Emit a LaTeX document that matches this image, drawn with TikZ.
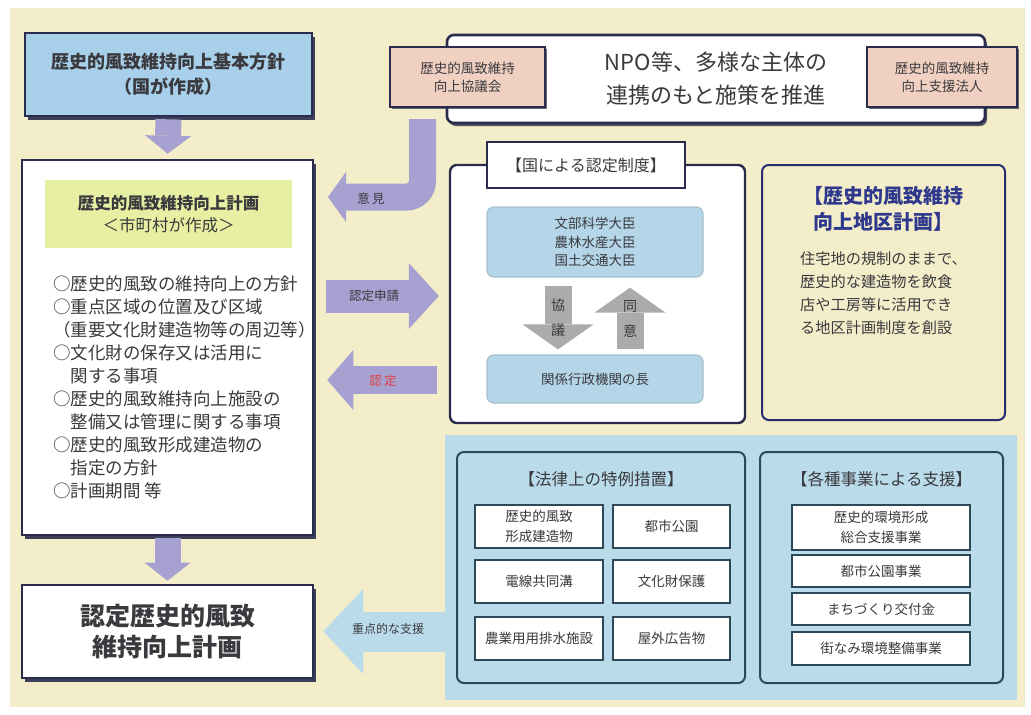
\documentclass[tikz,border=0pt]{standalone}
\usepackage{fontspec}
\setmainfont{Noto Sans CJK JP}
\usetikzlibrary{arrows.meta,shadows,positioning}
\definecolor{cream}{RGB}{243,237,202}
\definecolor{navy}{RGB}{42,44,78}
\definecolor{kihonblue}{RGB}{168,208,234}
\definecolor{bandblue}{RGB}{186,220,234}
\definecolor{daijinblue}{RGB}{180,214,232}
\definecolor{pinkfill}{RGB}{240,208,192}
\definecolor{leafgreen}{RGB}{231,240,162}
\definecolor{arrowpurple}{RGB}{166,161,208}
\definecolor{arrowgray}{RGB}{170,172,170}
\definecolor{tealline}{RGB}{45,72,88}
\definecolor{titleblue}{RGB}{46,56,140}
\definecolor{textgray}{RGB}{58,58,62}
\definecolor{ninteired}{RGB}{222,66,66}

\tikzset{
  shadowbox/.style={shape=rectangle,draw=navy,line width=2.6pt,fill=white,inner sep=0pt,
                    drop shadow={shadow xshift=3pt,shadow yshift=-4pt,fill=navy,opacity=0.9}},
  pinkbox/.style={shape=rectangle,draw=navy,line width=2pt,fill=pinkfill,inner sep=0pt,align=center,
                  font=\fontsize{13.5}{18}\selectfont,text=textgray,
                  drop shadow={shadow xshift=2pt,shadow yshift=-2pt,fill=navy,opacity=0.7}},
  roundbox/.style={shape=rectangle,rounded corners=2.4mm,line width=2pt,inner sep=0pt},
  cellbox/.style={shape=rectangle,draw=tealline,line width=1.4pt,fill=white,inner sep=0pt,align=center,
                  font=\fontsize{13.5}{21}\selectfont,text=textgray},
  fatarrow/.style={draw=arrowpurple,line width=#1},
  purplehead/.style={-{Triangle[width=46pt,length=18pt,line width=0pt]}},
  grayhead/.style={draw=arrowgray,line width=27pt,-{Triangle[width=71pt,length=25pt,line width=0pt]}},
  arrowlabel/.style={font=\fontsize{12.5}{16}\selectfont,text=textgray,inner sep=0pt}
}

\begin{document}
\begin{tikzpicture}[x=1pt,y=-1pt]
\useasboundingbox (0,0) rectangle (1031,715);
\fill[white] (0,0) rectangle (1031,715);
\fill[cream] (10,8) rectangle (1025,707);

% band behind the support boxes
\node (shienband)[shape=rectangle,fill=bandblue,inner sep=0pt,minimum width=572pt,minimum height=265pt,
                  anchor=north west] at (445,435) {};

% left column
\node (kihon)[shadowbox,fill=kihonblue,minimum width=287pt,minimum height=83pt,align=center,
              font=\bfseries\fontsize{18}{25}\selectfont,text=textgray]
  at (168.5,74.5) {歴史的風致維持向上基本方針\\（国が作成）};
\node (keikaku)[shadowbox,minimum width=291pt,minimum height=375pt] at (167.5,347.5) {};
\node (keikakuhead)[shape=rectangle,fill=leafgreen,minimum width=247pt,minimum height=68pt,inner sep=0pt,
                    align=center,font=\fontsize{16.5}{22}\selectfont,text=textgray]
  at (168.5,214) {\bfseries 歴史的風致維持向上計画\\＜市町村が作成＞};
\node (komoku)[anchor=north west,align=left,inner sep=0pt,font=\fontsize{17.5}{23}\selectfont,text=textgray]
  at (53,276) {○歴史的風致の維持向上の方針\\
               ○重点区域の位置及び区域\\
               （重要文化財建造物等の周辺等）\\
               ○文化財の保存又は活用に\\
               \hphantom{○}関する事項\\
               ○歴史的風致維持向上施設の\\
               \hphantom{○}整備又は管理に関する事項\\
               ○歴史的風致形成建造物の\\
               \hphantom{○}指定の方針\\
               ○計画期間 等};
\node (nintei)[shadowbox,minimum width=291pt,minimum height=93pt,align=center,
               font=\bfseries\fontsize{25}{31}\selectfont,text=textgray]
  at (167.5,631.5) {認定歴史的風致\\維持向上計画};

\draw[fatarrow=26pt,purplehead,shorten <=2pt,shorten >=5pt] (kihon.south) -- (keikaku.north);
\draw[fatarrow=26pt,purplehead,shorten <=2pt,shorten >=3pt] (keikaku.south) -- (nintei.north);

% top: NPO
\node (npo)[roundbox,draw=navy,line width=2.6pt,fill=white,minimum width=538pt,minimum height=88pt,
            align=center,font=\fontsize{22}{33}\selectfont,text=textgray,
            drop shadow={shadow xshift=2pt,shadow yshift=-3pt,fill=navy,opacity=0.8}]
  at (716,79) {NPO等、多様な主体の\\連携のもと施策を推進};
\node (kyogikai)[pinkbox,minimum width=155pt,minimum height=60pt] at (467.5,77) {歴史的風致維持\\向上協議会};
\node (shienhojin)[pinkbox,minimum width=150pt,minimum height=60pt] at (942,77) {歴史的風致維持\\向上支援法人};

% national approval system
\node (kuni)[roundbox,draw=navy,line width=2.4pt,fill=white,minimum width=295pt,minimum height=258pt]
  at (597.5,294) {};
\node (kunititle)[shape=rectangle,draw=navy,line width=2.2pt,fill=white,minimum width=198pt,minimum height=46pt,
                  inner sep=0pt,font=\fontsize{16}{20}\selectfont,text=textgray]
  at (586,165) {【国による認定制度】};
\node (daijin)[roundbox,draw=daijinblue!75!gray,line width=1.2pt,fill=daijinblue,minimum width=216pt,
               minimum height=70pt,align=center,font=\fontsize{13.5}{18.5}\selectfont,text=textgray]
  at (595,242) {文部科学大臣\\農林水産大臣\\国土交通大臣};
\node (kankei)[roundbox,draw=daijinblue!75!gray,line width=1.2pt,fill=daijinblue,minimum width=216pt,
               minimum height=48pt,font=\fontsize{13.5}{18}\selectfont,text=textgray]
  at (595,379) {関係行政機関の長};
\draw[grayhead] ([xshift=-37pt,yshift=-8pt]daijin.south) -- ([xshift=-37pt,yshift=5pt]kankei.north);
\draw[grayhead] ([xshift=35pt,yshift=5pt]kankei.north) -- ([xshift=35pt,yshift=-10pt]daijin.south);
\node (kyogi)[arrowlabel,align=center,font=\fontsize{14}{25}\selectfont] at (558,318) {協\\議};
\node (doi)[arrowlabel,align=center,font=\fontsize{14}{25}\selectfont] at (630,319) {同\\意};

% district plan
\node (chiku)[roundbox,draw=titleblue!80!black,minimum width=243pt,minimum height=255pt] at (883.5,292.5) {};
\node (chikutitle)[below=22pt of chiku.north,align=center,inner sep=0pt,
                   font=\bfseries\fontsize{20}{26}\selectfont,text=titleblue]
  {【歴史的風致維持\\向上地区計画】};
\node (chikubody)[below=20pt of chikutitle,align=left,inner sep=0pt,
                  font=\fontsize{15.2}{23}\selectfont,text=textgray]
  {住宅地の規制のままで、\\歴史的な建造物を飲食\\店や工房等に活用でき\\る地区計画制度を創設};

% arrows between the columns
\coordinate (ikentip) at (328,197);
\coordinate (shinsei) at (380,296);
\coordinate (ninteirow) at (380,380);
\draw[fatarrow=27pt,rounded corners=16pt,-{Triangle[width=50pt,length=18pt,line width=0pt]}]
  ([xshift=-45pt,yshift=-11pt]kyogikai.south) |- (ikentip);
\node (iken)[arrowlabel] at (371,199) {意\,見};
\draw[fatarrow=33pt,-{Triangle[width=66pt,length=30pt,line width=0pt]}]
  ([xshift=12pt]keikaku.east |- shinsei) -- ([xshift=-10pt]kuni.west |- shinsei);
\node (shinseilabel)[arrowlabel] at (374,296) {認定申請};
\draw[fatarrow=28pt,-{Triangle[width=60pt,length=26pt,line width=0pt]}]
  ([xshift=-12pt]kuni.west |- ninteirow) -- ([xshift=13pt]keikaku.east |- ninteirow);
\node (ninteilabel)[arrowlabel,text=ninteired] at (383,381) {認\,定};

% support measures
\node (houritsu)[roundbox,draw=tealline,fill=bandblue,minimum width=288pt,minimum height=231pt] at (601,567.5) {};
\node (houritsutitle)[below=20pt of houritsu.north,inner sep=0pt,font=\fontsize{16.5}{20}\selectfont,text=textgray]
  {【法律上の特例措置】};
\node (kenzobutsu)[cellbox,minimum width=128pt,minimum height=43pt,font=\fontsize{13.5}{20}\selectfont]
  at (539,526.5) {歴史的風致\\形成建造物};
\node (toshikoen)[cellbox,minimum width=117pt,minimum height=43pt] at (671.5,526.5) {都市公園};
\node (densen)[cellbox,minimum width=128pt,minimum height=43pt] at (539,581.5) {電線共同溝};
\node (bunkazai)[cellbox,minimum width=117pt,minimum height=43pt] at (671.5,581.5) {文化財保護};
\node (haisui)[cellbox,minimum width=128pt,minimum height=43pt] at (539,638.5) {農業用用排水施設};
\node (kokoku)[cellbox,minimum width=117pt,minimum height=43pt] at (671.5,638.5) {屋外広告物};

\node (kakushu)[roundbox,draw=tealline,fill=bandblue,minimum width=243pt,minimum height=231pt] at (881.5,567.5) {};
\node (kakushutitle)[below=20pt of kakushu.north,inner sep=0pt,font=\fontsize{16.5}{20}\selectfont,text=textgray]
  {【各種事業による支援】};
\node (sogoshien)[cellbox,minimum width=178pt,minimum height=45pt,font=\fontsize{13.5}{20}\selectfont]
  at (881,527.5) {歴史的環境形成\\総合支援事業};
\node (koenjigyo)[cellbox,minimum width=178pt,minimum height=32pt] at (881,571) {都市公園事業};
\node (kofukin)[cellbox,minimum width=178pt,minimum height=32pt] at (881,609) {まちづくり交付金};
\node (machinami)[cellbox,minimum width=178pt,minimum height=33pt] at (881,648.5) {街なみ環境整備事業};

% priority support
\draw[draw=bandblue,line width=40pt,-{Triangle[width=85pt,length=40pt,line width=0pt]}]
  (shienband.west |- nintei.east) -- ([xshift=9pt]nintei.east);
\node (juten)[arrowlabel,font=\fontsize{12}{16}\selectfont] at (388,629) {重点的な支援};
\end{tikzpicture}
\end{document}
